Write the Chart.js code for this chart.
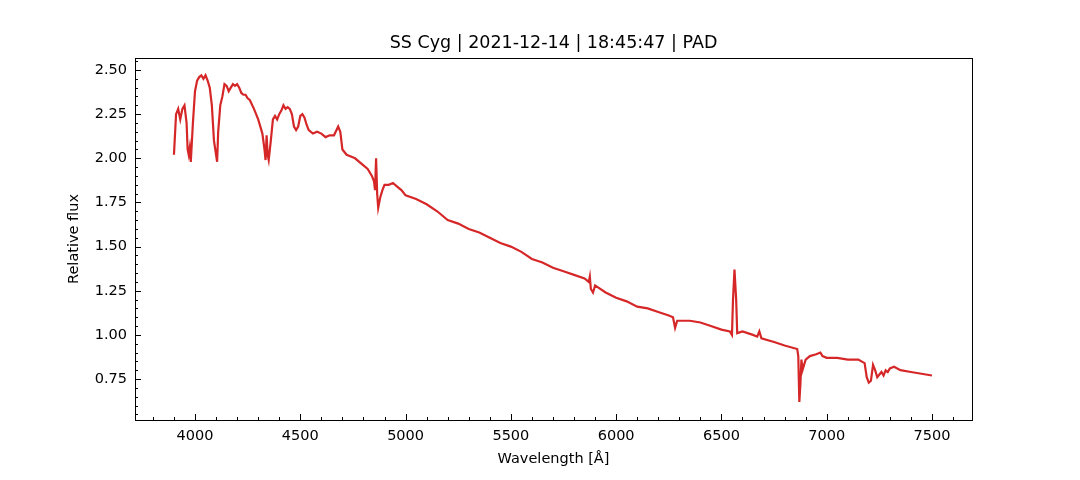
<!DOCTYPE html>
<html><head><meta charset="utf-8">
<script src="https://cdn.jsdelivr.net/npm/chart.js@4"></script>
<style>html,body{margin:0;background:#fff}#c{display:block}</style>
</head><body>
<canvas id="c" width="1080" height="480"></canvas>
<script>
// spectrum (wavelength in Å, relative flux)
const wavelengths = [3900,3910,3920,3930,3940,3950,3960,3965,3970,3975,3980,3990,4000,4010,4020,4030,4040,4050,4060,4070,4080,4090,4100,4105,4110,4120,4130,4140,4150,4160,4170,4180,4190,4200,4210,4220,4230,4240,4250,4260,4280,4300,4320,4330,4335,4340,4345,4350,4360,4370,4380,4390,4400,4410,4420,4430,4440,4450,4460,4470,4480,4490,4500,4510,4520,4530,4540,4560,4580,4600,4620,4640,4660,4680,4690,4700,4720,4740,4760,4780,4800,4820,4840,4850,4855,4860,4865,4870,4880,4890,4900,4920,4940,4960,4980,5000,5050,5100,5150,5200,5250,5300,5350,5400,5450,5500,5550,5600,5650,5700,5750,5800,5850,5870,5875,5880,5890,5900,5950,6000,6050,6100,6150,6200,6250,6270,6280,6290,6350,6400,6450,6500,6540,6550,6555,6562,6570,6575,6600,6650,6670,6680,6690,6750,6800,6860,6865,6870,6875,6880,6885,6890,6900,6920,6950,6970,6980,7000,7050,7100,7150,7180,7190,7200,7210,7220,7230,7240,7260,7270,7280,7290,7300,7320,7350,7400,7450,7500];
const fluxes = [2.02,2.25,2.28,2.22,2.28,2.30,2.20,2.05,2.02,2.06,1.98,2.20,2.38,2.44,2.46,2.47,2.45,2.47,2.44,2.40,2.30,2.10,2.02,1.98,2.15,2.30,2.35,2.42,2.41,2.38,2.40,2.42,2.41,2.42,2.40,2.37,2.36,2.36,2.34,2.33,2.28,2.22,2.14,2.05,1.99,2.13,2.02,1.99,2.10,2.22,2.24,2.22,2.25,2.27,2.30,2.28,2.29,2.28,2.25,2.18,2.16,2.18,2.24,2.25,2.23,2.19,2.16,2.14,2.15,2.14,2.12,2.13,2.13,2.18,2.15,2.05,2.02,2.01,2.00,1.98,1.96,1.94,1.90,1.87,1.82,2.00,1.80,1.72,1.78,1.82,1.85,1.85,1.86,1.84,1.82,1.79,1.77,1.74,1.70,1.65,1.63,1.60,1.58,1.55,1.52,1.50,1.47,1.43,1.41,1.38,1.36,1.34,1.32,1.30,1.33,1.26,1.24,1.28,1.24,1.21,1.19,1.16,1.15,1.13,1.11,1.10,1.04,1.08,1.08,1.07,1.05,1.03,1.02,1.00,1.20,1.37,1.20,1.01,1.02,1.00,0.99,1.02,0.98,0.96,0.94,0.92,0.88,0.62,0.72,0.86,0.80,0.82,0.86,0.88,0.89,0.90,0.88,0.87,0.87,0.86,0.86,0.84,0.76,0.73,0.74,0.83,0.80,0.76,0.79,0.77,0.80,0.79,0.81,0.82,0.80,0.79,0.78,0.77];
const xTicks = [4000,4500,5000,5500,6000,6500,7000,7500];
const yTicks = [0.75,1.00,1.25,1.50,1.75,2.00,2.25,2.50];
const TITLE = 'SS Cyg | 2021-12-14 | 18:45:47 | PAD';

const FONT = "'DejaVu Sans', sans-serif";
Chart.defaults.font.family = FONT;
Chart.defaults.color = '#000';

// matplotlib-style inward ticks, frame and a title centred over the axes
const mplFrame = {
  id: 'mplFrame',
  afterDraw(chart) {
    const {ctx, chartArea: a, scales: {x, y}} = chart;
    ctx.save();
    ctx.strokeStyle = '#000';
    ctx.lineWidth = 1;
    ctx.beginPath();
    for (let v = 3800; v <= 7600; v += 100) {
      const p = Math.round(x.getPixelForValue(v)) + 0.5;
      if (p < a.left || p > a.right) continue;
      const len = v % 500 === 0 ? 6 : 3;
      ctx.moveTo(p, a.bottom); ctx.lineTo(p, a.bottom - len);
    }
    for (let v = 0.55; v <= 2.56; v += 0.05) {
      const p = Math.round(y.getPixelForValue(v)) + 0.5;
      if (p < a.top || p > a.bottom) continue;
      const major = Math.abs(v / 0.25 - Math.round(v / 0.25)) < 1e-6;
      ctx.moveTo(a.left, p); ctx.lineTo(a.left + (major ? 6 : 3), p);
    }
    ctx.stroke();
    ctx.strokeRect(a.left + 0.5, a.top + 0.5, a.right - a.left, a.bottom - a.top);
    ctx.fillStyle = '#000';
    ctx.font = '17.5px ' + FONT;
    ctx.textAlign = 'center';
    ctx.textBaseline = 'alphabetic';
    ctx.fillText(TITLE, (a.left + a.right) / 2, 48);
    ctx.restore();
  }
};

new Chart(document.getElementById('c'), {
  type: 'line',
  data: {
    datasets: [{
      data: wavelengths.map((w, i) => ({x: w, y: fluxes[i]})),
      borderColor: '#d62728',
      borderWidth: 2.2,
      pointRadius: 0,
      tension: 0
    }]
  },
  options: {
    responsive: false,
    animation: false,
    layout: {padding: {left: 62, right: 108, top: 58, bottom: 0}},
    plugins: {
      legend: {display: false},
      tooltip: {enabled: false}
    },
    scales: {
      x: {
        type: 'linear', min: 3715, max: 7690,
        afterBuildTicks: s => { s.ticks = xTicks.map(v => ({value: v})); },
        afterFit: s => { s.height = 60; },
        grid: {display: false, drawTicks: false},
        border: {display: false},
        ticks: {font: {size: 14.5}, color: '#000', padding: 8, maxRotation: 0, callback: v => String(v)},
        title: {display: true, text: 'Wavelength [Å]', font: {size: 14.5}, color: '#000', padding: {top: 4, bottom: 12}}
      },
      y: {
        min: 0.518, max: 2.568,
        afterBuildTicks: s => { s.ticks = yTicks.map(v => ({value: v})); },
        afterFit: s => { s.width = 73; },
        grid: {display: false, drawTicks: false},
        border: {display: false},
        ticks: {font: {size: 14.5}, color: '#000', padding: 8, callback: v => v.toFixed(2)},
        title: {display: true, text: 'Relative flux', font: {size: 14.5}, color: '#000', padding: {bottom: 4}}
      }
    }
  },
  plugins: [mplFrame]
});
</script>
</body></html>
